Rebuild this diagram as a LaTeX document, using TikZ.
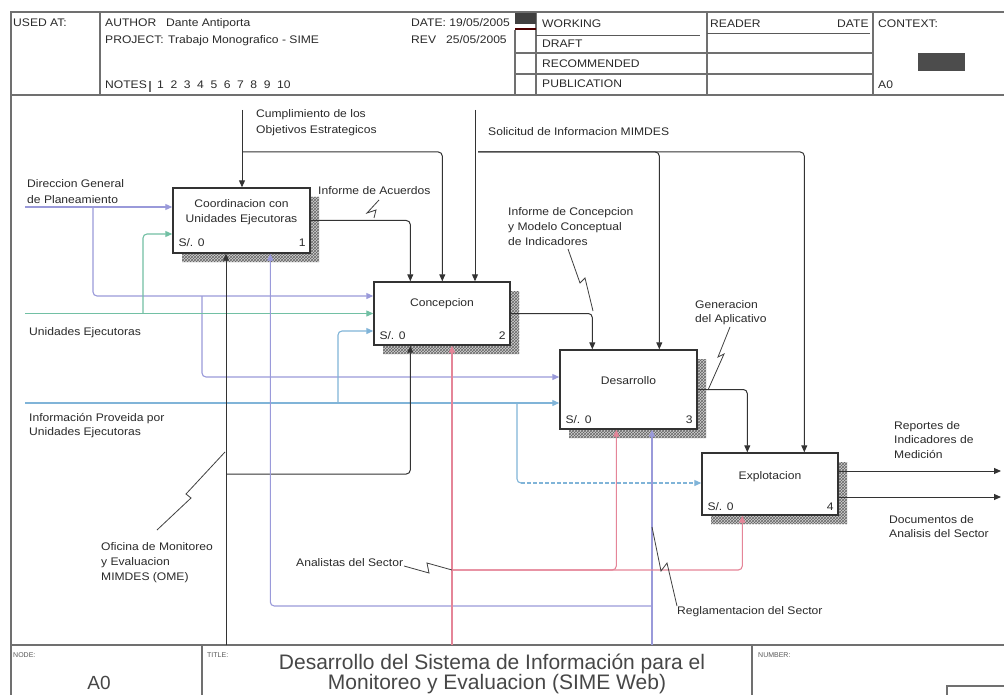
\documentclass[tikz,border=0pt]{standalone}
\usepackage{fontspec}
\setmainfont{Liberation Sans}
\newfontfamily\lblfont{Liberation Sans}[FakeStretch=1.1]
\usetikzlibrary{arrows.meta,patterns,calc}
\definecolor{lavc}{HTML}{9A9ADA}
\definecolor{grnc}{HTML}{72C0A4}
\definecolor{bluc}{HTML}{80B4D8}
\definecolor{pnkc}{HTML}{E58598}
\definecolor{inkc}{HTML}{2A2A2A}
\definecolor{framec}{HTML}{707070}
\newcommand\nsp{\hspace{6.6pt}}
\tikzset{
  frame/.style={draw=framec, line width=1.4pt},
  thinrule/.style={draw=black!65, line width=0.8pt},
  actbox/.style={draw=black!80, line width=1.4pt, fill=white, inner sep=0pt},
  shadowbase/.style={fill=black!18},
  shadowhatch/.style={pattern=crosshatch, pattern color=black!60},
  tip/.style={-{Triangle[length=7pt,width=6pt]}},
  blkA/.style={draw=black!80, line width=1pt, rounded corners=4pt, tip},
  lavA/.style={draw=lavc, line width=1.1pt, rounded corners=4pt, tip},
  grnA/.style={draw=grnc, line width=1.1pt, rounded corners=4pt, tip},
  bluA/.style={draw=bluc, line width=1.1pt, rounded corners=4pt, tip},
  pnkA/.style={draw=pnkc, line width=1.1pt, rounded corners=4pt, tip},
  sq/.style={draw=black!75, line width=0.8pt},
  lbl/.style={anchor=base west, inner sep=0pt, text=inkc},
  boxlbl/.style={anchor=base, inner sep=0pt, text=inkc},
  tiny/.style={anchor=base west, inner sep=0pt, text=black!65, font=\fontsize{7}{8}\selectfont},
}
\newcommand\shadowpoly[4]{%
  \fill[shadowbase] (#3,#2+9) -- (#3+9,#2+9) -- (#3+9,#4+9) -- (#1+9,#4+9) -- (#1+9,#4) -- (#3,#4) -- cycle;
  \fill[shadowhatch] (#3,#2+9) -- (#3+9,#2+9) -- (#3+9,#4+9) -- (#1+9,#4+9) -- (#1+9,#4) -- (#3,#4) -- cycle;}
\begin{document}
\begin{tikzpicture}[x=1pt,y=-1pt,font={\lblfont\fontsize{11}{13}\selectfont}]
\useasboundingbox (0,0) rectangle (1004,695);
\fill[white] (0,0) rectangle (1004,695);

% ---------- frame ----------
\draw[frame] (11,695) -- (11,12) -- (1004,12);
\draw[frame] (11,95) -- (1004,95);
\draw[frame] (11,645) -- (1004,645);
\draw[frame] (100,12) -- (100,95);
\draw[frame] (536,12) -- (536,95);
\draw[frame] (515,30) -- (515,95);
\fill[black!75] (515,13) rectangle (536,24);
\draw[draw=black!70!red, line width=2pt] (515,29.5) -- (536,29.5);
\draw[frame] (707,12) -- (707,95);
\draw[frame] (873,12) -- (873,95);
\draw[thinrule] (536,35) -- (700,35);
\draw[thinrule] (707,33) -- (870,33);
\draw[frame] (515,53) -- (873,53);
\draw[frame] (515,74) -- (873,74);
\draw[frame] (150,81) -- (150,92);
\fill[black!70] (918,53) rectangle (965,71);
\draw[frame] (202,645) -- (202,695);
\draw[frame] (752,645) -- (752,695);
\draw[frame] (947,686) rectangle (1010,700);

% ---------- header text ----------
\node[lbl] (hUsed) at (13,27) {USED AT:};
\node[lbl] (hAuth) at (105,27) {AUTHOR};
\node[lbl] (hAuthN) at (166,27) {Dante Antiporta};
\node[lbl] (hProj) at (105,44) {PROJECT:};
\node[lbl] (hProjN) at (168,44) {Trabajo Monografico - SIME};
\node[lbl] (hNotes) at (105,89) {NOTES};
\node[lbl] (hNums) at (157,89) {1\nsp2\nsp3\nsp4\nsp5\nsp6\nsp7\nsp8\nsp9\nsp10};
\node[lbl] (hDate) at (411,27) {DATE:\ 19/05/2005};
\node[lbl] (hRev) at (411,44) {REV\ \ \ 25/05/2005};
\node[lbl] (hWork) at (542,28) {WORKING};
\node[lbl] (hDraft) at (542,48) {DRAFT};
\node[lbl] (hRec) at (542,68) {RECOMMENDED};
\node[lbl] (hPub) at (542,88) {PUBLICATION};
\node[lbl] (hRead) at (710,28) {READER};
\node[lbl] (hDate2) at (837,28) {DATE};
\node[lbl] (hCtx) at (878,28) {CONTEXT:};
\node[lbl] (hA0) at (878,89) {A0};

% ---------- bottom block ----------
\node[tiny] (fNode) at (13,657) {NODE:};
\node[tiny] (fTitle) at (207,657) {TITLE:};
\node[tiny] (fNum) at (758,657) {NUMBER:};
\node[anchor=base, inner sep=0pt, text=black!72, font=\fontsize{19}{21}\selectfont] (fA0) at (99,689) {A0};
\node[anchor=base, inner sep=0pt, text=black!72, font=\fontsize{21}{23}\selectfont] (fT1) at (492,669) {Desarrollo del Sistema de Información para el};
\node[anchor=base, inner sep=0pt, text=black!72, font=\fontsize{21}{23}\selectfont] (fT2) at (497,689.5) {Monitoreo y Evaluacion (SIME Web)};

% ---------- shadows ----------
\shadowpoly{173}{188}{310}{253}
\shadowpoly{374}{282}{510}{345}
\shadowpoly{560}{350}{697}{429}
\shadowpoly{702}{453}{838}{515}

% ---------- activity boxes ----------
\node[actbox, minimum width=137, minimum height=65] (b1) at (241.5,220.5) {};
\node[actbox, minimum width=136, minimum height=63] (b2) at (442,313.5) {};
\node[actbox, minimum width=137, minimum height=79] (b3) at (628.5,389.5) {};
\node[actbox, minimum width=136, minimum height=62] (b4) at (770,484) {};

\node[boxlbl] (b1t1) at ($(b1.north)+(0,20)$) {Coordinacion con};
\node[boxlbl] (b1t2) at ($(b1.north)+(0,35)$) {Unidades Ejecutoras};
\node[lbl] (b1s) at ($(b1.south west)+(6,-7)$) {S/. 0};
\node[boxlbl, anchor=base east] (b1n) at ($(b1.south east)+(-5,-7)$) {1};
\node[boxlbl] (b2t) at ($(b2.north)+(0,25)$) {Concepcion};
\node[lbl] (b2s) at ($(b2.south west)+(6,-6)$) {S/. 0};
\node[boxlbl, anchor=base east] (b2n) at ($(b2.south east)+(-5,-6)$) {2};
\node[boxlbl] (b3t) at ($(b3.north)+(0,35)$) {Desarrollo};
\node[lbl] (b3s) at ($(b3.south west)+(6,-6)$) {S/. 0};
\node[boxlbl, anchor=base east] (b3n) at ($(b3.south east)+(-5,-6)$) {3};
\node[boxlbl] (b4t) at ($(b4.north)+(0,27)$) {Explotacion};
\node[lbl] (b4s) at ($(b4.south west)+(6,-5)$) {S/. 0};
\node[boxlbl, anchor=base east] (b4n) at ($(b4.south east)+(-5,-5)$) {4};

% ---------- controls ----------
\coordinate (cumpl) at (242,110);
\coordinate (cumplJ) at (242,152);
\draw[blkA] (cumpl) -- (cumpl |- b1.north);
\draw[blkA] (cumplJ) -| ($(b2.north west)+(69,0)$);
\coordinate (solic) at (475,110);
\coordinate (solicJ) at (478,152);
\draw[blkA] (solic) -- (solic |- b2.north);
\draw[blkA] (solicJ) -| ($(b3.north west)+(100,0)$);
\draw[blkA] (solicJ) -| ($(b4.north west)+(103,0)$);

% ---------- outputs ----------
\draw[blkA] (b1.east) -| ($(b2.north west)+(37,0)$);
\draw[blkA] (b2.east) -| ($(b3.north west)+(33,0)$);
\draw[blkA] (b3.east) -| ($(b4.north west)+(46,0)$);
\coordinate (rep) at (1001,471);
\coordinate (doc) at (1001,497);
\draw[blkA] (b4.east |- rep) -- (rep);
\draw[blkA] (b4.east |- doc) -- (doc);

% ---------- inputs ----------
\coordinate (dir) at (25,207);
\coordinate (dirJ1) at (93,207);
\coordinate (dirJ2) at (202,296);
\draw[lavA] (dir) -- (dir -| b1.west);
\draw[lavA] (dirJ1) |- ($(b2.west)+(0,-17.5)$);
\draw[lavA] (dirJ2) |- ($(b3.west)+(0,-12.5)$);
\coordinate (une) at (25,313.5);
\coordinate (uneJ) at (143,313.5);
\draw[grnA] (une) -- (une -| b2.west);
\draw[grnA] (uneJ) |- ($(b1.west)+(0,13.5)$);
\coordinate (inf) at (25,403);
\coordinate (infJ1) at (338,403);
\coordinate (infJ2) at (517,403);
\coordinate (infJ3) at (517,483);
\draw[bluA] (inf) -- (inf -| b3.west);
\draw[bluA] (infJ1) |- ($(b2.west)+(0,17.5)$);
\draw[draw=bluc, line width=1.1pt, rounded corners=4pt] (infJ2) -- (infJ3) -- ++(4,0);
\draw[bluA, dash pattern=on 4pt off 2pt] ($(infJ3)+(4,0)$) -- (infJ3 -| b4.west);

% ---------- mechanisms ----------
\coordinate (ofi) at (226,645);
\coordinate (ofiJ) at (226,474);
\draw[blkA] (ofi) -- (ofi |- b1.south);
\draw[blkA] (ofiJ) -| ($(b2.south west)+(37,0)$);
\coordinate (regl) at (652,645);
\coordinate (reglJ) at (652,606);
\draw[lavA] (regl) -- (regl |- b3.south);
\draw[lavA] (reglJ) -| ($(b1.south west)+(98,0)$);
\coordinate (anal) at (452,645);
\coordinate (analJ) at (452,570);
\draw[pnkA] (anal) -- (anal |- b2.south);
\draw[pnkA] (analJ) -| ($(b3.south west)+(57,0)$);
\draw[pnkA] (analJ) -| ($(b4.south west)+(41,0)$);

% ---------- arrow labels ----------
\node[lbl] (lCum1) at (256,118) {Cumplimiento de los};
\node[lbl] (lCum2) at (256,134) {Objetivos Estrategicos};
\node[lbl] (lSol) at (488,136) {Solicitud de Informacion MIMDES};
\node[lbl] (lDir1) at (27,188) {Direccion General};
\node[lbl] (lDir2) at (27,204) {de Planeamiento};
\node[lbl] (lAcu) at (318,195) {Informe de Acuerdos};
\node[lbl] (lCon1) at (508,216) {Informe de Concepcion};
\node[lbl] (lCon2) at (508,231) {y Modelo Conceptual};
\node[lbl] (lCon3) at (508,245) {de Indicadores};
\node[lbl] (lGen1) at (695,308) {Generacion};
\node[lbl] (lGen2) at (695,322) {del Aplicativo};
\node[lbl] (lUne) at (29,335) {Unidades Ejecutoras};
\node[lbl] (lInf1) at (29,421) {Información Proveida por};
\node[lbl] (lInf2) at (29,435) {Unidades Ejecutoras};
\node[lbl] (lRep1) at (894,429) {Reportes de};
\node[lbl] (lRep2) at (894,443) {Indicadores de};
\node[lbl] (lRep3) at (894,458) {Medición};
\node[lbl] (lDoc1) at (889,523) {Documentos de};
\node[lbl] (lDoc2) at (889,537) {Analisis del Sector};
\node[lbl] (lOfi1) at (101,550) {Oficina de Monitoreo};
\node[lbl] (lOfi2) at (101,565) {y Evaluacion};
\node[lbl] (lOfi3) at (101,580) {MIMDES (OME)};
\node[lbl] (lAna) at (296,566) {Analistas del Sector};
\node[lbl] (lReg) at (677,614) {Reglamentacion del Sector};

% ---------- squiggles ----------
\draw[sq] (379,200) -- (367,213) -- (376,210) -- (374,218);
\draw[sq] (568,249) -- (580,283) -- (585,278) -- (593,311);
\draw[sq] (730,327) -- (718,357) -- (724,354) -- (708,390);
\draw[sq] (157,530) -- (191,498) -- (186,494) -- (225,452);
\draw[sq] (404,566) -- (429,573) -- (427,563) -- (452,570);
\draw[sq] (652,527) -- (661,571) -- (667,563) -- (677,606);
\end{tikzpicture}
\end{document}
